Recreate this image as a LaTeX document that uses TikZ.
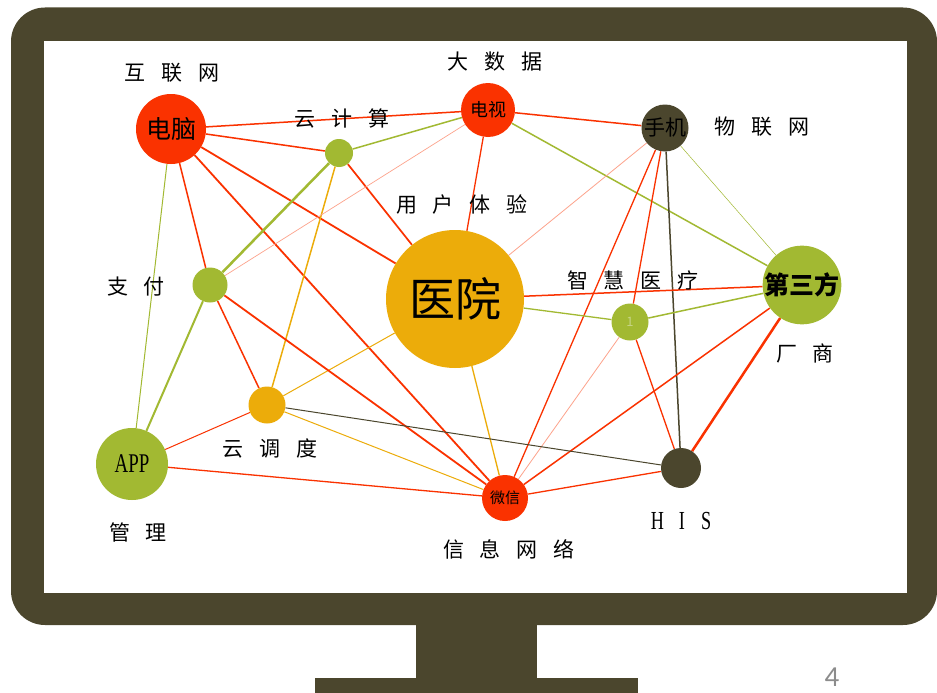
\documentclass[tikz,border=0pt]{standalone}
\usepackage{fontspec}
\setmainfont{Liberation Serif}
\newfontfamily\cjk{Noto Sans CJK SC}
\newfontfamily\condserif[FakeStretch=0.7]{Liberation Serif}
\newfontfamily\pagenumfont{Carlito}
\usetikzlibrary{backgrounds}
\definecolor{mon}{RGB}{75,70,45}
\definecolor{hred}{RGB}{250,50,0}
\definecolor{hgreen}{RGB}{162,185,50}
\definecolor{hgold}{RGB}{236,172,10}
\definecolor{hdark}{RGB}{75,70,45}
\newcommand\gp{\hspace{16pt}}
\begin{document}
\begin{tikzpicture}[x=1pt,y=-1pt,
  dot/.style={circle,inner sep=0pt,text=black},
  lab/.style={font=\cjk\fontsize{21}{23}\selectfont,text=black,inner sep=0pt},
  er/.style={draw=hred,line width=#1}, er/.default=1.5,
  eg/.style={draw=hgreen,line width=#1}, eg/.default=1.5,
  eo/.style={draw=hgold,line width=#1}, eo/.default=1.2,
  ed/.style={draw=hdark,line width=#1}, ed/.default=1.2,
  ef/.style={draw=hred!45,line width=#1}, ef/.default=0.7]
\useasboundingbox (0,0) rectangle (937,693);
% monitor
\begin{scope}[on background layer]
\fill[mon,rounded corners=34pt] (11,7.5) rectangle (937,625);
\fill[white] (44,41) rectangle (907,593);
\fill[mon] (416,620) rectangle (537,679);
\fill[mon] (315,678) rectangle (638,693);
\end{scope}
\node[text=black!45,font=\pagenumfont\fontsize{29}{30}\selectfont,inner sep=0pt] (pg) at (832,677) {4};
% nodes
\node[dot,fill=hred,minimum size=70pt,font=\cjk\fontsize{25}{27}\selectfont] (pc) at (171,129) {电脑};
\node[dot,fill=hgreen,minimum size=28pt] (yjs) at (339,153) {};
\node[dot,fill=hred,minimum size=54pt,font=\cjk\fontsize{18}{20}\selectfont] (tv) at (488,110) {电视};
\node[dot,fill=hdark,minimum size=47pt,font=\cjk\fontsize{21}{23}\selectfont] (sj) at (665,128) {手机};
\node[dot,fill=hgreen,minimum size=74pt,font=\cjk\bfseries\fontsize{25}{27}\selectfont] (dsf) at (802,285) {第三方};
\node[dot,fill=hgreen,minimum size=37pt,text=hgreen!60!white,font=\cjk\fontsize{13}{14}\selectfont] (zh) at (630,322) {1};
\node[dot,fill=hgold,minimum size=138pt,font=\cjk\fontsize{46}{48}\selectfont] (yy) at (455,299) {医院};
\node[dot,fill=hgreen,minimum size=35pt] (zf) at (210,285) {};
\node[dot,fill=hgold,minimum size=37pt] (ydd) at (267,405) {};
\node[dot,fill=hgreen,minimum size=72pt,font=\condserif\fontsize{27}{29}\selectfont] (app) at (132,464) {APP};
\node[dot,fill=hred,minimum size=46pt,font=\cjk\fontsize{15}{16}\selectfont] (wx) at (505,498) {微信};
\node[dot,fill=hdark,minimum size=40pt] (his) at (681,468) {};
% labels
\node[lab] (l1) at (172,73) {互\gp 联\gp 网};
\node[lab] (l2) at (495,62) {大\gp 数\gp 据};
\node[lab] (l3) at (342,118) {云\gp 计\gp 算};
\node[lab] (l4) at (462,205) {用\gp 户\gp 体\gp 验};
\node[lab] (l5) at (762,127) {物\gp 联\gp 网};
\node[lab] (l6) at (633,280) {智\gp 慧\gp 医\gp 疗};
\node[lab] (l7) at (805,353) {厂\gp 商};
\node[lab] (l8) at (136,287) {支\gp 付};
\node[lab] (l9) at (270,448) {云\gp 调\gp 度};
\node[lab] (l10) at (138,532) {管\gp 理};
\node[lab] (l11) at (509,549) {信\gp 息\gp 网\gp 络};
\node[inner sep=0pt,text=black,font=\condserif\fontsize{26}{28}\selectfont] (l12) at (681,521) {H\hspace{15pt}I\hspace{16pt}S};
% edges
\begin{scope}[on background layer]
\draw[er] (pc) -- (tv);
\draw[er] (pc) -- (yjs);
\draw[er=1.8] (pc) -- (yy);
\draw[er=1.8] (pc) -- (wx);
\draw[er] (pc) -- (zf);
\draw[eg=1] (pc) -- (app);
\draw[eg] (yjs) -- (tv);
\draw[eg=2.5] (yjs) -- (zf);
\draw[eo=1.5] (yjs) -- (ydd);
\draw[er=1.7] (yjs) -- (yy);
\draw[er] (tv) -- (sj);
\draw[eg] (tv) -- (dsf);
\draw[er=1.3] (tv) -- (yy);
\draw[ef] (tv) -- (zf);
\draw[eg=0.5] (sj) -- (dsf);
\draw[ed=1.5] (sj) -- (his);
\draw[er=1.3] (sj) -- (wx);
\draw[er=1.3] (sj) -- (zh);
\draw[ef=0.8] (sj) -- (yy);
\draw[er] (dsf) -- (yy);
\draw[eg] (dsf) -- (zh);
\draw[er] (dsf) -- (wx);
\draw[er=2.5] (dsf) -- (his);
\draw[eg=1.3] (zh) -- (yy);
\draw[er=1.3] (zh) -- (his);
\draw[ef=0.8] (zh) -- (wx);
\draw[eo=1.3] (yy) -- (wx);
\draw[eo=1] (yy) -- (ydd);
\draw[eg=2] (zf) -- (app);
\draw[er] (zf) -- (ydd);
\draw[er=1.8] (zf) -- (wx);
\draw[eo=1] (ydd) -- (wx);
\draw[ed=1] (ydd) -- (his);
\draw[er=1] (ydd) -- (app);
\draw[er=1.3] (app) -- (wx);
\draw[er=1.3] (wx) -- (his);
\end{scope}
\end{tikzpicture}
\end{document}
